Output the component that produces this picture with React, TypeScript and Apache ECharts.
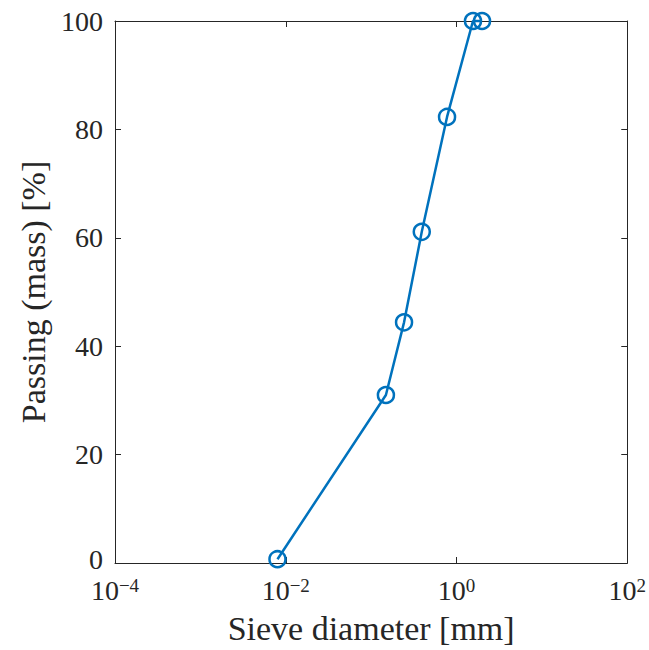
import React, { useEffect, useRef } from "react";
import * as echarts from "echarts";

const diameters = [0.008, 0.149, 0.243, 0.392, 0.775, 1.56, 1.99];
const passing = [0.7, 31.0, 44.4, 61.1, 82.3, 100, 100];
const xTickExponents = [-4, -2, 0, 2];
const yTicks = [0, 20, 40, 60, 80, 100];

const FONT = "'Liberation Serif', 'Times New Roman', serif";
const TXT = "#262626";
const AX = "#262626";
const BLUE = "#0072BD";

export default function App() {
  const ref = useRef<HTMLDivElement>(null);
  useEffect(() => {
    if (!ref.current) return;
    const chart = echarts.init(ref.current, undefined, { renderer: "svg" });
    const xMin = Math.pow(10, xTickExponents[0]);
    const xMax = Math.pow(10, xTickExponents[xTickExponents.length - 1]);
    const fmtX = (v: number) => {
      const e = Math.round(Math.log10(v));
      if (!xTickExponents.includes(e)) return "";
      const s = e < 0 ? "\u2212" + Math.abs(e) : String(e);
      return `{b|10}{s|${s}}`;
    };
    const fmtY = (v: number) => (v === yTicks[0] ? `{z|${v}}` : `{n|${v}}`);
    const axisLine = { show: true, onZero: false, lineStyle: { color: AX, width: 1 } };
    const axisTick = { show: true, inside: true, length: 6, lineStyle: { color: AX, width: 1 } };
    chart.setOption({
      animation: false,
      backgroundColor: "#ffffff",
      grid: { left: 115, right: 18, top: 21, bottom: 86, containLabel: false },
      xAxis: [
        {
          type: "log",
          logBase: 10,
          min: xMin,
          max: xMax,
          interval: 2,
          splitNumber: 3,
          position: "bottom",
          name: "Sieve diameter [mm]",
          nameLocation: "middle",
          nameGap: 48,
          nameTextStyle: { fontFamily: FONT, fontSize: 34, color: TXT },
          axisLine,
          axisTick,
          splitLine: { show: false },
          minorTick: { show: false },
          axisLabel: {
            margin: 13,
            formatter: fmtX,
            rich: {
              b: { fontFamily: FONT, fontSize: 28, lineHeight: 28, color: TXT, verticalAlign: "middle" },
              s: {
                fontFamily: FONT,
                fontSize: 19,
                lineHeight: 19,
                color: TXT,
                verticalAlign: "middle",
                padding: [0, 0, 10, 0],
              },
            },
          },
        },
        {
          type: "log",
          logBase: 10,
          min: xMin,
          max: xMax,
          interval: 2,
          splitNumber: 3,
          position: "top",
          axisLine,
          axisTick,
          splitLine: { show: false },
          axisLabel: { show: false },
        },
      ],
      yAxis: [
        {
          type: "value",
          min: yTicks[0],
          max: yTicks[yTicks.length - 1],
          interval: 20,
          position: "left",
          name: "Passing (mass) [%]",
          nameLocation: "middle",
          nameGap: 65,
          nameTextStyle: { fontFamily: FONT, fontSize: 34, color: TXT },
          axisLine,
          axisTick,
          splitLine: { show: false },
          axisLabel: {
            margin: 12,
            formatter: fmtY,
            rich: {
              n: { fontFamily: FONT, fontSize: 28, lineHeight: 20, color: TXT },
              z: { fontFamily: FONT, fontSize: 28, lineHeight: 20, color: TXT, padding: [0, 0, 8, 0] },
            },
          },
        },
        {
          type: "value",
          min: yTicks[0],
          max: yTicks[yTicks.length - 1],
          interval: 20,
          position: "right",
          axisLine,
          axisTick,
          splitLine: { show: false },
          axisLabel: { show: false },
        },
      ],
      series: [
        {
          type: "line",
          xAxisIndex: 0,
          yAxisIndex: 0,
          data: diameters.map((d, i) => [d, passing[i]]),
          clip: false,
          symbol: "circle",
          symbolSize: 16,
          lineStyle: { color: BLUE, width: 2.5 },
          itemStyle: { color: "rgba(0,0,0,0)", borderColor: BLUE, borderWidth: 2.5 },
          emphasis: { disabled: true },
        },
      ],
    });
    return () => chart.dispose();
  }, []);
  return (
    <div
      ref={ref}
      style={{ position: "fixed", left: 0, top: 0, width: 649, height: 650, background: "#fff" }}
    />
  );
}
